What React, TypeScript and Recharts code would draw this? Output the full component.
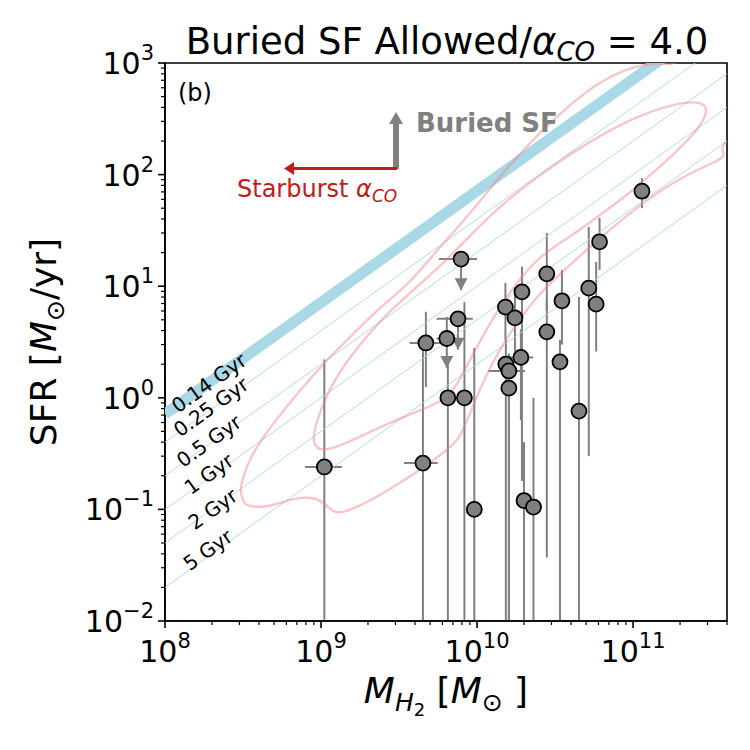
import React from 'react';
import { ComposedChart, Scatter, XAxis, YAxis, ErrorBar, ReferenceArea } from 'recharts';

// molecular gas mass (Msun) and star formation rate (Msun/yr) per galaxy
const massH2 = [1.05e9, 4.5e9, 4.7e9, 6.4e9, 7.55e9, 6.5e9, 8.3e9, 9.6e9, 1.52e10, 1.75e10, 1.94e10, 1.53e10, 1.6e10, 1.6e10, 1.91e10, 2.0e10, 2.3e10, 2.8e10, 2.8e10, 3.5e10, 3.4e10, 4.5e10, 5.2e10, 5.8e10, 6.1e10, 1.14e11, 7.9e9];
const sfr = [0.24, 0.26, 3.1, 3.4, 5.1, 1.0, 1.0, 0.1, 6.5, 5.2, 8.9, 2.0, 1.74, 1.22, 2.3, 0.12, 0.105, 3.9, 12.9, 7.4, 2.1, 0.76, 9.6, 6.9, 25, 71, 17.5];
const sfrLow = [0.01, 0.01, 1.25, 1.85, 2.7, 0.01, 0.01, 0.01, 3.3, 2.6, 0.18, 0.01, 0.01, 0.01, 0.63, 0.01, 0.01, 0.037, 6.1, 3.0, 0.01, 0.01, 0.3, 2.6, 14, 50, 9.2];
const sfrHigh = [2.2, 2.7, 5.9, 5.3, 5.1, 2.0, 7.2, 2.8, 10.7, 9.8, 15, 3.3, 1.74, 2.5, 4.1, 0.4, 1.0, 7.5, 30, 14, 3.3, 8.0, 34, 16.5, 41, 93, 17.5];
const massLow = [7.9e8, 3.4e9, 3.7e9, 5.5e9, 5.5e9, 5.9e9, null, null, null, null, null, null, 1.18e10, null, 1.6e10, null, null, null, null, null, null, null, null, null, null, null, 5.7e9];
const massHigh = [1.36e9, 5.6e9, 6.0e9, 7.4e9, 9.4e9, 6.5e9, null, null, null, null, null, null, 2.03e10, null, 2.29e10, null, null, null, null, null, null, null, null, null, null, null, 1.0e10];
// SFR upper limits: sfrLow holds the arrow tip
const upperLimit = [false, false, false, true, true, false, false, false, false, false, false, false, false, false, false, false, false, false, false, false, false, false, false, false, false, false, true];

// constant depletion time lines (Gyr)
const depletionGyr = [0.14, 0.25, 0.5, 1, 2, 5];
const depletionLabels = ['0.14 Gyr', '0.25 Gyr', '0.5 Gyr', '1 Gyr', '2 Gyr', '5 Gyr'];
const labelPos = [[209, 383], [211, 407], [209, 441], [209, 474], [213, 509], [208, 550]];

// density contours, [log10 M, log10 SFR]
const outerContour = [
  [8.494, -0.737], [8.545, -0.53], [8.673, -0.262], [8.865, 0.07], [9.038, 0.339], [9.167, 0.518],
  [9.359, 0.787], [9.571, 1.029], [9.744, 1.324], [9.891, 1.548], [10.051, 1.817], [10.192, 2.059],
  [10.404, 2.382], [10.615, 2.651], [10.788, 2.83], [10.936, 2.937], [11.077, 2.991], [11.205, 3.0],
  [11.269, 2.973], [11.429, 3.206], [11.814, 3.116], [11.878, 2.4], [11.603, 2.337], [11.558, 2.22],
  [11.603, 2.158], [11.474, 2.086], [11.256, 1.934], [11.045, 1.728], [10.833, 1.486], [10.615, 1.217],
  [10.404, 0.948], [10.244, 0.652], [10.096, 0.321], [9.974, -0.065], [9.891, -0.378], [9.782, -0.495],
  [9.571, -0.71], [9.359, -0.889], [9.205, -0.996], [9.122, -1.032], [9.077, -1.023], [9.013, -0.934],
  [8.949, -0.889], [8.821, -0.898], [8.673, -0.978], [8.545, -0.978], [8.5, -0.943], [8.481, -0.826],
];
const innerContour = [
  [8.942, -0.423], [8.962, -0.244], [9.038, 0.043], [9.167, 0.339], [9.378, 0.697], [9.59, 0.966],
  [9.795, 1.217], [9.987, 1.504], [10.192, 1.772], [10.404, 1.996], [10.615, 2.203], [10.853, 2.4],
  [11.045, 2.534], [11.301, 2.651], [11.449, 2.651], [11.481, 2.579], [11.429, 2.418], [11.256, 2.176],
  [11.09, 1.97], [10.962, 1.817], [10.788, 1.638], [10.615, 1.459], [10.404, 1.28], [10.212, 0.966],
  [10.019, 0.518], [9.891, 0.159], [9.808, -0.02], [9.59, -0.136], [9.378, -0.262], [9.167, -0.405],
  [9.013, -0.486],
];

const X_MIN = 1e8;
const X_MAX = 4e11;
const Y_MIN = 0.01;
const Y_MAX = 1000;

const points = massH2.map((m, i) => ({
  m,
  sfr: sfr[i],
  yErr: [sfr[i] - sfrLow[i], sfrHigh[i] - sfr[i]],
  xErr: massLow[i] == null ? null : [m - (massLow[i] as number), (massHigh[i] as number) - m],
}));
const limitTips = massH2.flatMap((m, i) => (upperLimit[i] ? [{ m, sfr: sfrLow[i] }] : []));

const depletionLines = depletionGyr.map((t) => [
  { m: X_MIN, sfr: X_MIN / (t * 1e9) },
  { m: X_MAX, sfr: X_MAX / (t * 1e9) },
]);
const toValues = (c: number[][]) => c.map(([lm, ls]) => ({ m: 10 ** lm, sfr: 10 ** ls }));

const logTicks = (lo: number, hi: number, max: number) => {
  const out: number[] = [];
  for (let e = lo; e <= hi; e++) {
    for (let d = 1; d <= 9; d++) {
      const v = d * 10 ** e;
      if (v <= max * 1.0001) out.push(v);
    }
  }
  return out;
};
const xTicks = logTicks(8, 11, X_MAX);
const yTicks = logTicks(-2, 3, Y_MAX);

const tickInfo = (v: number) => {
  const e = Math.round(Math.log10(v));
  return { e, major: Math.abs(v / 10 ** e - 1) < 1e-6 };
};
const expText = (e: number) => (e < 0 ? '\u2212' + -e : String(e));

const XTick = ({ x, y, payload }: any) => {
  const { e, major } = tickInfo(payload.value);
  return (
    <g>
      <line x1={x} x2={x} y1={y} y2={y + (major ? 7 : 4)} stroke="#000" strokeWidth={major ? 1.6 : 1.2} />
      {major && (
        <text x={x} y={y + 41} textAnchor="middle" fontSize={30} fill="#000">
          10<tspan dy={-14} fontSize={21}>{expText(e)}</tspan>
        </text>
      )}
    </g>
  );
};

const YTick = ({ x, y, payload }: any) => {
  const { e, major } = tickInfo(payload.value);
  return (
    <g>
      <line x1={x} x2={x - (major ? 7 : 4)} y1={y} y2={y} stroke="#000" strokeWidth={major ? 1.6 : 1.2} />
      {major && (
        <text x={x - 11} y={y + 11} textAnchor="end" fontSize={30} fill="#000">
          10<tspan dy={-14} fontSize={21}>{expText(e)}</tspan>
        </text>
      )}
    </g>
  );
};

const Dot = (p: any) => <circle cx={p.cx} cy={p.cy} r={7.5} fill="#808080" stroke="#000" strokeWidth={1.8} />;
const Caret = (p: any) => (
  <polygon points={`${p.cx - 6.5},${p.cy - 12} ${p.cx + 6.5},${p.cy - 12} ${p.cx},${p.cy}`} fill="#808080" />
);
const NoMark = () => <g />;

const RED = '#c41a1a';
const GRAY = '#808080';

export default function App() {
  return (
    <div style={{ position: 'absolute', left: 0, top: 0, width: 750, height: 750, background: '#fff', fontFamily: 'DejaVu Sans' }}>
      <ComposedChart width={750} height={750} margin={{ top: 63, right: 23, bottom: 89, left: 0 }}>
        <XAxis
          dataKey="m"
          type="number"
          scale="log"
          domain={[X_MIN, X_MAX]}
          allowDataOverflow
          ticks={xTicks}
          interval={0}
          tick={<XTick />}
          tickLine={false}
          tickSize={0}
          tickMargin={0}
          height={40}
          axisLine={{ stroke: '#000', strokeWidth: 1.6 }}
        />
        <YAxis
          dataKey="sfr"
          type="number"
          scale="log"
          domain={[Y_MIN, Y_MAX]}
          allowDataOverflow
          ticks={yTicks}
          interval={0}
          tick={<YTick />}
          tickLine={false}
          tickSize={0}
          tickMargin={0}
          width={165}
          axisLine={{ stroke: '#000', strokeWidth: 1.6 }}
        />
        {depletionLines.map((d, i) => (
          <Scatter
            key={'t' + i}
            data={d}
            shape={NoMark}
            line={{ stroke: '#a9d8e6', strokeWidth: i === 0 ? 11 : 0.9 }}
            isAnimationActive={false}
          />
        ))}
        {[outerContour, innerContour].map((c, i) => (
          <Scatter
            key={'c' + i}
            data={toValues(c)}
            shape={NoMark}
            line={{ stroke: '#f08080', strokeOpacity: 0.45, strokeWidth: 2.4 }}
            lineJointType="basisClosed"
            isAnimationActive={false}
          />
        ))}
        <Scatter data={limitTips} shape={Caret} isAnimationActive={false} />
        <Scatter data={points} shape={Dot} isAnimationActive={false}>
          <ErrorBar dataKey="yErr" direction="y" width={0} stroke={GRAY} strokeWidth={2} />
          <ErrorBar dataKey="xErr" direction="x" width={0} stroke={GRAY} strokeWidth={2} />
        </Scatter>
        <ReferenceArea x1={X_MIN} x2={X_MAX} y1={Y_MIN} y2={Y_MAX} fill="none" fillOpacity={0} stroke="#000" strokeWidth={1.6} />
      </ComposedChart>
      <svg width={750} height={750} style={{ position: 'absolute', left: 0, top: 0, pointerEvents: 'none' }}>
        <text x={447} y={54} textAnchor="middle" fontSize={37} fill="#000">
          Buried SF Allowed/<tspan fontStyle="italic">α</tspan>
          <tspan fontStyle="italic" fontSize={26} dy={7}>CO</tspan>
          <tspan dy={-7}> = 4.0</tspan>
        </text>
        <text x={446} y={703} textAnchor="middle" fontSize={36} fill="#000">
          <tspan fontStyle="italic">M</tspan>
          <tspan fontStyle="italic" fontSize={25} dy={8}>H</tspan>
          <tspan fontSize={18} dy={5}>2</tspan>
          <tspan dy={-13}> [</tspan>
          <tspan fontStyle="italic">M</tspan>
          <tspan fontSize={25} dy={8}>⊙</tspan>
          <tspan dy={-8}> ]</tspan>
        </text>
        <text transform="translate(56,342) rotate(-90)" textAnchor="middle" fontSize={36} fill="#000">
          SFR [<tspan fontStyle="italic">M</tspan>
          <tspan fontSize={25} dy={8}>⊙</tspan>
          <tspan dy={-8}>/yr</tspan>]
        </text>
        <text x={178} y={101} fontSize={24} fill="#000">(b)</text>
        <text x={416} y={132} fontSize={26} fontWeight="bold" fill={GRAY}>Buried SF</text>
        <line x1={396} y1={169} x2={396} y2={122} stroke={GRAY} strokeWidth={6} />
        <polygon points="389,124 403,124 396,112" fill={GRAY} />
        <line x1={397} y1={168.5} x2={292} y2={168.5} stroke={RED} strokeWidth={3} />
        <polygon points="294,162 294,175 284,168.5" fill={RED} />
        <text x={237} y={197} fontSize={24} fill={RED}>
          Starburst <tspan fontStyle="italic">α</tspan>
          <tspan fontStyle="italic" fontSize={17} dy={5}>CO</tspan>
        </text>
        {depletionLabels.map((s, i) => (
          <text
            key={s}
            x={labelPos[i][0]}
            y={labelPos[i][1]}
            transform={`rotate(-35.6 ${labelPos[i][0]} ${labelPos[i][1]})`}
            textAnchor="middle"
            dominantBaseline="central"
            fontSize={20}
            fill="#000"
          >
            {s}
          </text>
        ))}
      </svg>
    </div>
  );
}
